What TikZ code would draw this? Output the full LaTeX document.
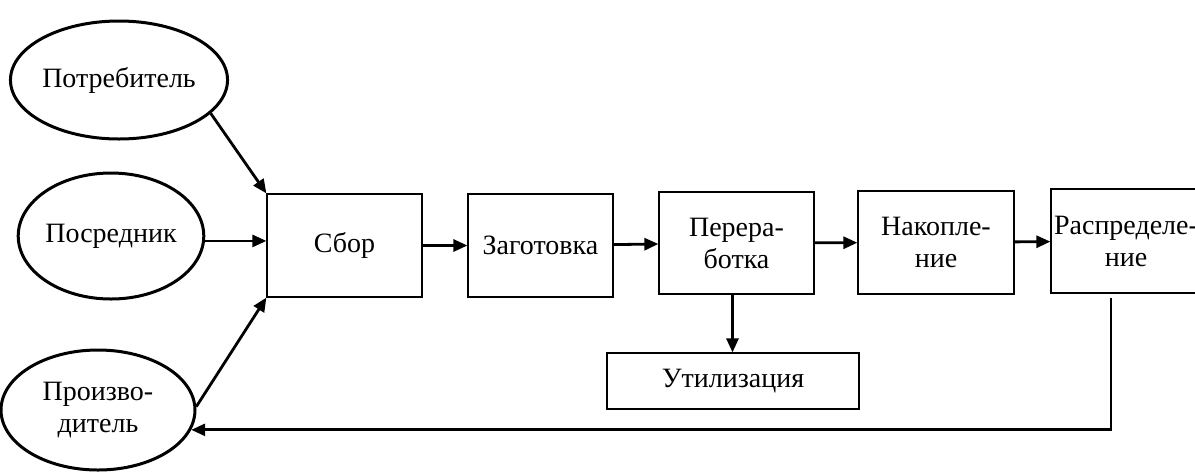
\documentclass[tikz,border=0pt]{standalone}
\usepackage{fontspec}
\setmainfont{Liberation Serif}
\usetikzlibrary{shapes.geometric,arrows.meta}

\begin{document}
\begin{tikzpicture}[x=0.5pt,y=-0.5pt]
    \tikzset{
        party/.style={ellipse,draw,line width=1.5pt,inner sep=0pt,align=center,
            font=\fontsize{14}{16}\selectfont},
        stage/.style={rectangle,draw,line width=0.6pt,inner sep=0pt,align=center,
            font=\fontsize{14}{16}\selectfont},
        % flow/.style={-Latex,thick},
        flow/.style={-{Triangle[length=7pt,width=6pt]},line width=1.4pt}
    }
    \useasboundingbox (0,0) rectangle (1195,473);

    \node[party,minimum width=91pt,minimum height=59pt] (consumer) at (119,80) {Потребитель};
    \node[party,minimum width=90.5pt,minimum height=63pt] (broker) at (111,236) {Посредник};
    \node[party,minimum width=97pt,minimum height=60pt] (producer) at (98,410) {Произво-\\дитель};

    \node[stage,minimum width=77.5pt,minimum height=51.5pt] (collect) at (344.5,245.5) {Сбор};
    \node[stage,minimum width=72.5pt,minimum height=51.5pt] (prepare) at (540.5,245.5) {Заготовка};
    \node[stage,minimum width=77.5pt,minimum height=51pt] (process) at (736.5,243) {Перера-\\ботка};
    \node[stage,minimum width=78pt,minimum height=51.5pt] (store) at (936,242.5) {Накопле-\\ние};
    \node[stage,minimum width=75pt,minimum height=52pt] (distrib) at (1126,241) {Распределе-\\ние};
    \node[stage,minimum width=126pt,minimum height=28pt] (dispose) at (733,381) {Утилизация};

    \draw[flow] (consumer.-20) -- (collect.north west);
    \draw[flow] (broker.-3) -- (broker.-3 -| collect.west);
    \draw[flow] (producer.2) -- (collect.south west);
    \draw[flow] (collect) -- (prepare);
    \draw[flow] (prepare) -- (process);
    \draw[flow] (process) -- (store);
    \draw[flow] (store) -- (distrib);
    \draw[flow] ([xshift=-2pt]process.south) -- ([xshift=-2pt]process.south |- dispose.north);
    \draw[flow] ([xshift=-7.5pt,yshift=-2pt]distrib.south) |- (producer.-12);
\end{tikzpicture}
\end{document}
